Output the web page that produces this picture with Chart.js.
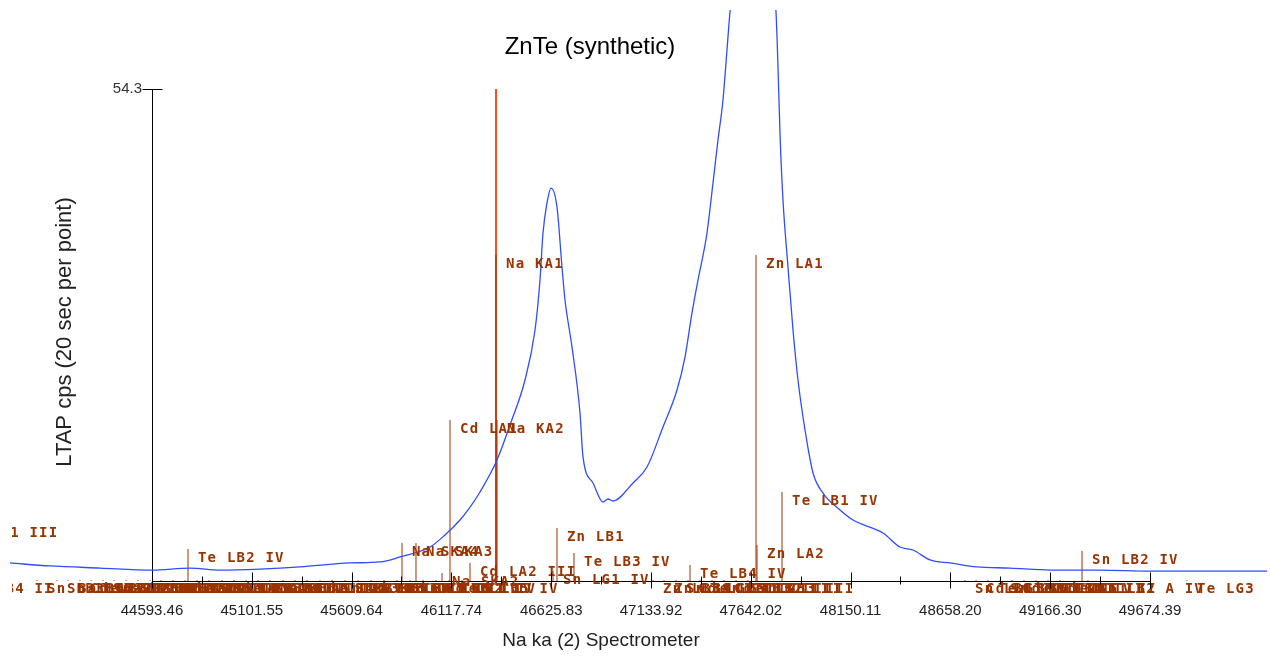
<!DOCTYPE html>
<html>
<head>
<meta charset="utf-8">
<title>ZnTe (synthetic)</title>
<script src="https://cdn.jsdelivr.net/npm/chart.js@4.4.1/dist/chart.umd.min.js"></script>
<style>
  html, body { margin: 0; padding: 0; background: #fff; }
</style>
</head>
<body>
<canvas id="myChart" width="1270" height="656"></canvas>
<script>
const chartTitle = 'ZnTe (synthetic)';
const xTitle = 'Na ka (2) Spectrometer';
const yTitle = 'LTAP cps (20 sec per point)';

// eixo x (posições do espectrómetro)
const xTickValues = [44593.46, 45101.55, 45609.64, 46117.74, 46625.83, 47133.92, 47642.02, 48150.11, 48658.20, 49166.30, 49674.39];
const xTickLabels = ['44593.46', '45101.55', '45609.64', '46117.74', '46625.83', '47133.92', '47642.02', '48150.11', '48658.20', '49166.30', '49674.39'];
const yTickValues = [54.3];
const yTickLabels = ['54.3'];

// varrimento (cps)
const scanX = [43870.5, 44074.2, 44328.7, 44593.5, 44786.9, 44939.7, 45143.3, 45347.0, 45601.5, 45754.2,
  45856.1, 46008.8, 46085.1, 46161.5, 46202.3, 46263.3, 46349.9, 46416.1, 46492.4, 46543.4,
  46568.8, 46584.1, 46604.4, 46624.8, 46655.3, 46680.8, 46696.1, 46731.7, 46772.5, 46787.7,
  46838.6, 46889.5, 46915.0, 46940.4, 47042.3, 47113.5, 47195.0, 47266.3, 47307.0, 47342.7,
  47373.2, 47419.0, 47449.5, 47475.0, 47500.4, 47520.8, 47536.1, 47587.0, 47648.1, 47714.3,
  47770.3, 47780.5, 47790.6, 47805.9, 47831.4, 47856.9, 47882.3, 47918.0, 47958.7, 48009.6,
  48096.1, 48162.3, 48315.1, 48401.6, 48467.8, 48554.3, 48656.2, 48793.6, 48961.7, 49165.3,
  49419.9, 49674.5, 50270.1];
const scanY = [1.99, 1.66, 1.43, 1.21, 1.43, 1.21, 1.32, 1.55, 1.99, 2.10,
  2.65, 3.75, 5.08, 6.73, 7.84, 9.82, 13.35, 17.22, 22.18, 27.70,
  33.22, 38.41, 41.72, 43.37, 41.28, 34.66, 31.01, 25.83, 18.54, 13.69,
  10.82, 8.72, 9.05, 8.83, 10.82, 12.58, 17.00, 21.08, 24.72, 29.58,
  33.22, 38.41, 43.93, 48.67, 53.09, 58.61, 62.80, 72.0, 78.0, 75.0,
  62.80, 56.73, 49.45, 42.05, 34.66, 27.70, 22.18, 16.67, 11.92, 9.71,
  7.84, 6.73, 5.30, 3.75, 3.42, 2.32, 1.99, 1.55, 1.43, 1.21,
  1.21, 1.10, 1.10];

// linhas KLM com etiqueta visível
const peakNames = ['Te LB1 III', 'Te LB2 IV', 'Na SKA4', 'Na SKA3', 'Na SKA2', 'Cd LA1', 'Cd LA2 III', 'Na KA2', 'Na KA1',
  'Sn LG1 IV', 'Zn LB1', 'Te LB3 IV', 'Te LB4 IV', 'Zn LA2', 'Zn LA1', 'Te LB1 IV', 'Sn LB2 IV'];
const peakPos = [43575.2, 44776.7, 45866.2, 45937.5, 46069.9, 46110.6, 46212.4, 46349.9, 46344.8,
  46635.0, 46655.3, 46741.9, 47332.5, 47673.6, 47668.5, 47800.9, 49328.2];
const peakHeight = [6.29, 3.53, 4.19, 4.19, 0.88, 17.77, 1.99, 17.77, 35.98,
  1.10, 5.85, 3.09, 1.77, 3.97, 35.98, 9.82, 3.31];

// linhas fracas (amontoadas junto ao eixo)
const minorNames = ['Te LB4 II', 'Sn LB3 IV',
  'Sn LB6 III', 'Ba LA2 II', 'Cd LB3 III', 'Te LG1 III', 'Sn LG2 IV', 'Ba LB1 II', 'Cd LB4 III', 'Te LB5 III',
  'Zn KB1 IV', 'Sn LB1 III', 'Cd LB2 III', 'Te LB6 III', 'Na KB1 IV', 'Sn LB4 III', 'Cd LG1 IV', 'Te LL III',
  'S KA III', 'K KA III', 'Na KB III', 'Ba LA1 III', 'Sn LL II', 'Cd LB4 IV', 'Te LG2 IV', 'Sn LG3 IV',
  'S KB III', 'Cd LB3 IV', 'K KB III', 'Te LB7 IV', 'Cd LB1 IV', 'Zn LL III', 'Sn LB6 IV', 'Cd LB2 IV',
  'Te LL IV', 'Cd LB5 IV',
  'Zn LB3', 'Zn LB4', 'Sn LL III', 'Cd LG2 III', 'Te LG3 IV', 'Sn LA1 III', 'Cd LB3 III', 'Te LB2 III', 'Sn LB3 III',
  'Sn LB1 IV', 'Cd LG1 III', 'Te LB7 III', 'Sn LB5 IV', 'Cd LG3 III', 'Te LL II', 'Sn LB4 IV', 'Cd LB1 II', 'Te LG1 II',
  'Sn LB2 A IV', 'Te LG3'];
const minorPos = [43600.7, 44008.0,
  44109.8, 44165.8, 44226.9, 44282.9, 44344.0, 44400.0, 44461.1, 44522.2,
  44583.3, 44639.3, 44700.4, 44761.5, 44822.6, 44883.7, 44949.9, 45011.0,
  45072.1, 45133.2, 45194.2, 45260.4, 45321.5, 45382.6, 45448.8, 45509.9,
  45576.1, 45642.3, 45708.5, 45774.6, 45840.8, 45907.0, 45973.2, 46039.4,
  46105.6, 46171.7,
  47144.1, 47200.1, 47261.2, 47322.3, 47383.4, 47444.5, 47505.6, 47566.7, 47627.8,
  48732.6, 48788.6, 48849.7, 48910.8, 48971.8, 49032.9, 49094.0, 49155.1, 49216.3,
  49359.0, 49862.8];
const minorHeight = [0.1, 0.1,
  0.1, 0.1, 0.1, 0.1, 0.1, 0.1, 0.1, 0.1,
  0.1, 0.1, 0.1, 0.1, 0.1, 0.1, 0.1, 0.1,
  0.1, 0.1, 0.1, 0.1, 0.1, 0.1, 0.1, 0.1,
  0.1, 0.1, 0.1, 0.1, 0.1, 0.1, 0.1, 0.1,
  0.1, 0.1,
  0.1, 0.1, 0.1, 0.1, 0.1, 0.1, 0.1, 0.1, 0.1,
  0.1, 0.1, 0.1, 0.1, 0.1, 0.1, 0.1, 0.1, 0.1,
  0.1, 0.1];

// posição actual do espectrómetro (Na KA1)
const currentPos = 46344.8;

const markerNames = peakNames.concat(minorNames);
const markerPos = peakPos.concat(minorPos);
const markerHeight = peakHeight.concat(minorHeight);

const brown = '#993300';

// cada linha: base, topo e um ponto nulo para cortar o traço
const markerData = [];
markerPos.forEach((x, i) => {
  markerData.push({x: x, y: 0}, {x: x, y: markerHeight[i]}, {x: x, y: null});
});

const markerLabels = {
  id: 'markerLabels',
  afterDatasetsDraw(chart) {
    const meta = chart.getDatasetMeta(1);
    const ctx = chart.ctx;
    ctx.save();
    // o programa original corta as etiquetas junto à margem esquerda
    ctx.beginPath();
    ctx.rect(12, 0, chart.width - 12, chart.height);
    ctx.clip();
    ctx.font = 'bold 14px "DejaVu Sans Mono"';
    ctx.letterSpacing = '1.2px';
    ctx.fillStyle = brown;
    ctx.textAlign = 'left';
    ctx.textBaseline = 'alphabetic';
    markerNames.forEach((name, i) => {
      const top = meta.data[i * 3 + 1];
      ctx.fillText(name, top.x + 10, top.y + 13);
    });
    ctx.restore();
  }
};

const axisDecor = {
  id: 'axisDecor',
  afterDraw(chart) {
    const ctx = chart.ctx;
    const xs = chart.scales.x, ys = chart.scales.y;
    const y0 = Math.round(ys.getPixelForValue(0)) + 0.5;
    const left = Math.round(xs.getPixelForValue(xTickValues[0])) + 0.5;
    ctx.save();
    ctx.strokeStyle = '#000';
    ctx.lineWidth = 1;
    ctx.beginPath();
    xTickValues.forEach((v, i) => {
      const px = Math.round(xs.getPixelForValue(v)) + 0.5;
      ctx.moveTo(px, y0 - 9); ctx.lineTo(px, y0 + 7);
      if (i < xTickValues.length - 1) {
        const mx = Math.round(xs.getPixelForValue((v + xTickValues[i + 1]) / 2)) + 0.5;
        ctx.moveTo(mx, y0 - 5); ctx.lineTo(mx, y0 + 3);
      }
    });
    yTickValues.forEach(v => {
      const py = Math.round(ys.getPixelForValue(v)) + 0.5;
      ctx.moveTo(left - 10, py); ctx.lineTo(left + 10, py);
    });
    ctx.stroke();

    ctx.fillStyle = '#000';
    ctx.textAlign = 'center';
    ctx.textBaseline = 'middle';
    ctx.font = '24px "Liberation Sans", Arial, sans-serif';
    ctx.fillText(chartTitle, 590, 47);
    ctx.fillStyle = '#222';
    ctx.font = '19px "Liberation Sans", Arial, sans-serif';
    ctx.fillText(xTitle, 601, 641);
    ctx.font = '22px "Liberation Sans", Arial, sans-serif';
    ctx.translate(65, 332);
    ctx.rotate(-Math.PI / 2);
    ctx.fillText(yTitle, 0, 0);
    ctx.restore();
  }
};

const ctx = document.getElementById('myChart');
new Chart(ctx, {
  type: 'line',
  data: {
    datasets: [{
      label: 'scan',
      data: scanX.map((x, i) => ({x: x, y: scanY[i]})),
      borderColor: '#2f4cff',
      borderWidth: 1.3,
      pointRadius: 0,
      cubicInterpolationMode: 'monotone',
      order: 0,
      clip: {left: 150, top: 79, right: 125, bottom: 5}
    }, {
      label: 'KLM',
      data: markerData,
      borderColor: brown,
      borderWidth: 1,
      pointRadius: 0,
      spanGaps: false,
      order: 1,
      clip: false
    }, {
      label: 'Na KA1',
      data: [{x: currentPos, y: 0}, {x: currentPos, y: yTickValues[0]}],
      borderColor: '#ff4d1a',
      borderWidth: 2,
      pointRadius: 0,
      order: 2
    }]
  },
  options: {
    responsive: false,
    animation: false,
    devicePixelRatio: 1,
    layout: { padding: {left: 102, right: 120, top: 89, bottom: 35} },
    plugins: {
      legend: { display: false },
      title: { display: false },
      tooltip: { enabled: false }
    },
    scales: {
      x: {
        type: 'linear',
        bounds: 'data',
        afterBuildTicks: s => {
          s.min = xTickValues[0];
          s.max = xTickValues[xTickValues.length - 1];
          s.ticks = xTickValues.map(v => ({value: v}));
        },
        afterFit: s => { s.height = 40; },
        grid: { display: false },
        border: { display: true, color: '#000', width: 1 },
        ticks: {
          callback: (v, i) => xTickLabels[i],
          font: { family: '"Liberation Sans", Arial, sans-serif', size: 15 },
          color: '#222',
          maxRotation: 0,
          autoSkip: false,
          padding: 13
        }
      },
      y: {
        type: 'linear',
        min: 0,
        max: 54.3,
        afterBuildTicks: s => { s.ticks = yTickValues.map(v => ({value: v})); },
        afterFit: s => { s.width = 50; },
        grid: { display: false, drawTicks: false },
        border: { display: true, color: '#000', width: 1 },
        ticks: {
          callback: (v, i) => yTickLabels[i],
          font: { family: '"Liberation Sans", Arial, sans-serif', size: 15 },
          color: '#333',
          padding: 10
        }
      }
    }
  },
  plugins: [markerLabels, axisDecor]
});
</script>
</body>
</html>
